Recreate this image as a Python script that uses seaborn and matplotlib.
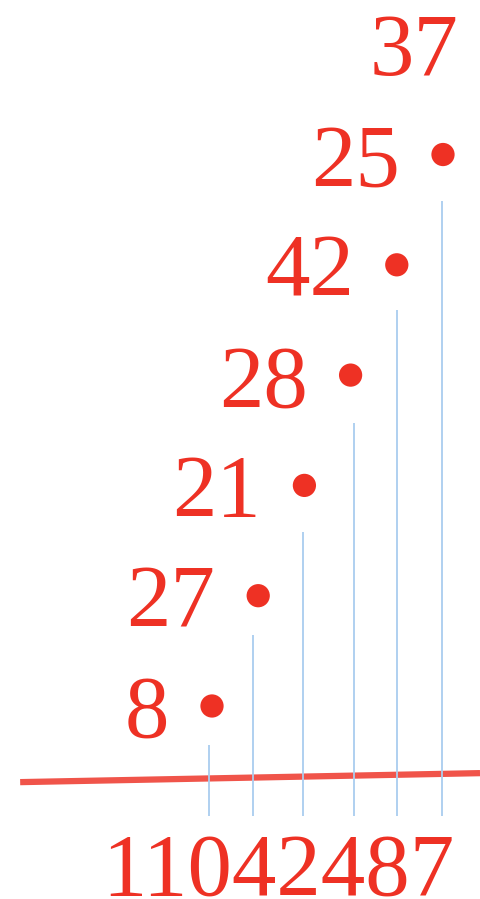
"""
plot.py
-------
Points étiquetés en diagonale, avec traits verticaux et ligne de base.
"""

import pandas as pd
import matplotlib
matplotlib.use('Agg')
import matplotlib.pyplot as plt
import seaborn as sns

# ── 1. Données ────────────────────────────────────────────────────────────────
pos_x   = [0, 1, 2, 3, 4, 5, 6.26]
pos_y   = [0, 1, 2, 3, 4, 5, 6]
valeurs = [8, 27, 21, 28, 42, 25, 37]
# traits verticaux : un par point sauf le dernier (hors cadre)
traits_x    = [-0.07, 0.89, 1.97, 3.07, 4.0, 4.98]
traits_haut = [-0.35, 0.64, 1.58, 2.57, 3.59, 4.58]
traits_bas  = -1.0
texte_axe   = "11042487"

ROUGE = '#ee3124'
ROUGE_LIGNE = '#f0544a'
BLEU = '#a9cdef'

df = pd.DataFrame({'x': pos_x, 'y': pos_y, 'valeur': valeurs})

# ── 2. Figure ─────────────────────────────────────────────────────────────────
sns.set_style('white')
plt.rcParams['font.family'] = ['Liberation Serif', 'DejaVu Serif']

fig = plt.figure(figsize=(4.8, 8.99), dpi=100)
ax = fig.add_axes([0, 0, 1, 1])
ax.axis('off')

# ligne de base rouge (légèrement inclinée)
ax.plot([0.042, 1.0], [0.130, 0.140], transform=ax.transAxes,
        color=ROUGE_LIGNE, lw=4.5, solid_capstyle='butt', zorder=1)

# traits verticaux bleus
ax.vlines(traits_x, traits_bas, traits_haut, color=BLEU, lw=1.3, zorder=2)

# points
sns.scatterplot(data=df, x='x', y='y', s=280, color=ROUGE,
                edgecolor='none', ax=ax, zorder=3, legend=False)

# étiquettes
for x, y, v in zip(pos_x, pos_y, valeurs):
    ax.annotate(str(v), (x, y),
                xytext=(-31, 0), textcoords='offset points',
                ha='right', va='center_baseline',
                fontsize=64, color=ROUGE, zorder=4, annotation_clip=False)

# texte du bas
fig.text(102 / 480, 1 - 895 / 899, texte_axe, ha='left', va='baseline',
         fontsize=64, color=ROUGE)

ax.set_xlim(-4.589, 5.801)
ax.set_ylim(-1.750, 6.401)
ax.set_xlabel('')
ax.set_ylabel('')

fig.savefig('out.png', dpi=100)
print("✅ Figure → out.png")
